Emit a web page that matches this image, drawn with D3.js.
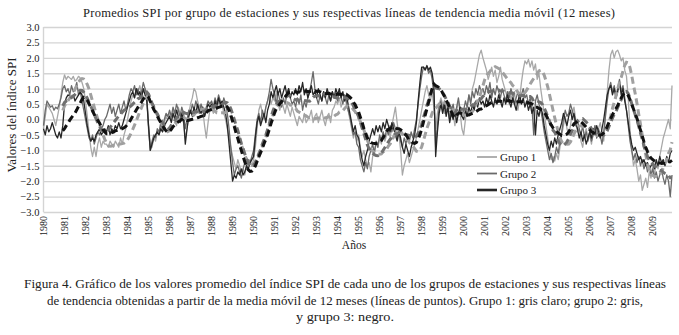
<!DOCTYPE html>
<html>
<head>
<meta charset="utf-8">
<script src="https://cdn.jsdelivr.net/npm/d3@7"></script>
<style>
  body { margin: 0; background: white; }
  text { font-family: "Liberation Serif", "DejaVu Serif", serif; fill: #222; }
</style>
</head>
<body>
<div id="spi_chart"></div>
<script>

//year labels for x axis (one per january)
const years = d3.range(1980, 2010).map(function(d) { return String(d); });

const yTicks = [-3.0, -2.5, -2.0, -1.5, -1.0, -0.5, 0.0, 0.5, 1.0, 1.5, 2.0, 2.5, 3.0];

const groupNames = ["Grupo 1", "Grupo 2", "Grupo 3"];

//monthly SPI averages, one row per year (jan..dec)
const grupo1 = [
  -0.3, 0.1, 0.5, 0.4, 0.3, 0.2, 0.0, -0.2, 0.1, 0.4, 0.8, 1.2,
  1.45, 1.3, 1.4, 1.35, 1.3, 1.4, 1.25, 1.3, 1.4, 1.35, 1.2, 1.0,
  0.6, 0.1, -0.4, -0.9, -1.2, -0.9, -1.2, -0.8, -0.6, -0.9, -0.7, -0.8,
  -0.8, -0.9, -0.7, -0.8, -0.9, -0.7, -0.8, -0.9, -0.6, -0.8, -0.5, -0.3,
  0.0, 0.3, 0.6, 0.8, 0.7, 1.0, 0.9, 1.1, 0.8, 0.9, 1.0, 0.7,
  -0.2, -0.8, -0.9, -0.6, -0.7, -0.4, -0.5, -0.2, -0.4, -0.1, 0.1, 0.0,
  0.2, 0.0, 0.3, 0.1, -0.2, 0.4, 0.2, 0.0, -0.1, -0.6, -0.3, 0.2,
  0.5, 0.7, 1.0, 0.9, 0.6, 0.4, 0.5, 0.3, -0.2, -0.6, -0.1, 0.3,
  0.4, 0.2, 0.5, 0.3, 0.6, 0.4, 0.5, 0.2, 0.0, -0.3, -0.6, -0.9,
  -1.2, -1.4, -1.6, -1.3, -1.5, -1.7, -1.6, -1.8, -1.5, -1.4, -1.3, -1.5,
  -1.3, -0.9, -0.3, 0.3, 0.5, 0.2, 0.0, 0.4, 0.6, 0.8, 0.5, 0.7,
  0.6, 0.9, 0.5, 0.3, 0.6, 0.4, 0.2, 0.5, 0.3, 0.1, 0.4, 0.2,
  0.0, -0.2, 0.1, 0.0, -0.1, 0.2, -0.1, 0.0, 0.1, 0.3, -0.1, 0.1,
  0.2, -0.1, 0.1, 0.3, 0.0, -0.2, 0.1, 0.2, -0.1, 0.3, 0.4, 0.6,
  0.5, 0.7, 0.4, 0.6, 0.8, 0.5, 0.3, 0.0, -0.3, -0.6, -0.4, -0.7,
  -0.5, -0.9, -1.2, -1.0, -1.3, -1.5, -1.4, -1.7, -1.2, -1.0, -0.8, -0.9,
  -0.6, -0.8, -0.4, -0.7, -0.5, -0.3, -0.6, -0.2, 0.1, 0.4, -0.1, -0.5,
  -1.0, -1.8, -1.5, -1.3, -1.1, -1.4, -1.2, -1.0, -0.8, -0.6, -0.3, 0.0,
  0.3, 0.6, 0.9, 1.1, 0.8, 0.6, 0.9, 0.4, -0.3, 0.2, 0.5, 0.7,
  0.5, 0.2, 0.6, 0.3, 0.0, 0.4, 0.2, -0.2, 0.3, 0.6, 0.2, -0.3,
  -0.5, 0.0, 0.4, 0.8, 0.6, 1.0, 1.2, 1.5, 1.8, 2.1, 2.25, 2.0,
  1.8, 1.6, 1.3, 1.5, 1.7, 1.4, 1.6, 1.2, 1.4, 1.7, 1.3, 1.1,
  0.9, 0.7, 0.5, 0.8, 0.6, 0.9, 0.4, 0.3, 0.7, 1.2, 1.6, 1.9,
  1.8, 1.95, 1.7, 1.9, 1.6, 1.8, 1.3, 1.5, 1.0, 0.6, 0.2, -0.2,
  -0.6, -1.0, -1.3, -1.2, -1.35, -1.1, -1.3, -0.9, -0.5, -0.2, 0.1, -0.3,
  -0.5, -0.2, 0.2, 0.4, 0.0, -0.4, -0.3, -0.7, -0.9, -0.5, -0.3, -0.6,
  -0.5, -0.8, -0.4, -0.2, -0.6, -0.3, -0.1, -0.4, -0.7, 0.2, 0.9, 1.6,
  2.1, 2.25, 2.0, 2.2, 2.25, 2.1, 1.9, 2.0, 1.6, 1.4, 0.7, -0.3,
  -1.0, -1.5, -1.3, -1.6, -2.0, -1.8, -2.3, -2.1, -1.9, -2.2, -1.7, -1.9,
  -1.5, -1.8, -1.4, -1.6, -1.2, -0.9, -0.6, -0.4, -0.2, 0.0, -0.3, 1.1
];

const grupo2 = [
  -0.2, 0.3, 0.6, 0.5, 0.4, 0.45, 0.3, 0.4, 0.35, 0.5, 0.7, 1.0,
  1.1, 0.9, 1.0, 0.8, 1.1, 0.9, 1.0, 1.2, 0.8, 0.9, 0.6, 0.3,
  0.0, -0.3, -0.6, -0.7, -0.5, -0.8, -0.6, -0.4, -0.5, -0.3, -0.2, 0.0,
  0.1, 0.3, 0.5, 0.2, 0.4, 0.1, 0.3, 0.5, 0.2, 0.4, 0.6, 0.3,
  0.5, 0.8, 1.0, 0.9, 1.1, 0.8, 1.0, 0.7, 0.9, 1.2, 1.0, 0.8,
  -0.3, -1.0, -0.7, -0.5, -0.6, -0.3, -0.4, -0.1, -0.3, 0.0, 0.2, 0.1,
  0.3, 0.1, 0.4, 0.2, 0.5, 0.3, 0.1, 0.4, 0.2, -0.3, 0.0, 0.3,
  0.2, 0.5, 0.3, 0.6, 0.4, 0.2, 0.5, 0.3, 0.1, 0.4, 0.6, 0.5,
  0.6, 0.4, 0.7, 0.5, 0.8, 0.6, 0.4, 0.7, 0.5, 0.2, -0.3, -0.9,
  -1.4, -1.8, -1.6, -1.5, -1.7, -1.9, -1.6, -1.4, -1.5, -1.3, -1.4, -1.2,
  -1.0, -0.5, 0.0, 0.2, -0.1, 0.3, 0.1, 0.4, 0.6, 0.9, 1.3, 1.0,
  0.8, 0.5, 0.9, 0.6, 0.4, 0.7, 0.5, 0.8, 1.0, 0.7, 0.5, 0.6,
  0.4, 0.7, 0.5, 0.8, 0.3, 0.6, 0.4, 0.7, 0.9, 1.2, 1.55, 1.0,
  0.7, 0.5, 0.8, 0.6, 0.9, 0.7, 0.5, 0.8, 0.6, 0.9, 0.7, 0.8,
  0.6, 0.9, 0.7, 0.5, 0.8, 0.6, 0.3, 0.1, -0.2, -0.5, -0.4, -0.8,
  -0.9, -1.3, -1.5, -1.7, -1.4, -1.6, -1.2, -1.0, -0.8, -1.1, -0.7, -0.9,
  -0.5, -0.7, -0.4, -0.6, -0.3, -0.5, -0.2, -0.4, -0.1, -0.3, -0.6, -0.4,
  -0.7, -0.9, -0.6, -0.8, -0.5, -0.7, -0.4, -0.6, -0.3, 0.0, 0.5, 1.0,
  1.4, 1.7, 1.65, 1.7, 1.5, 1.6, 1.3, 0.8, -0.9, -0.2, 0.4, 0.6,
  0.3, 0.6, 0.2, 0.5, 0.0, 0.3, 0.5, 0.1, 0.4, 0.7, 0.3, 0.1,
  0.3, 0.6, 0.4, 0.8, 0.5, 0.9, 0.7, 1.0, 0.8, 1.1, 0.9, 1.0,
  0.8, 1.1, 0.9, 1.2, 0.7, 1.0, 0.8, 1.1, 0.9, 0.7, 1.0, 0.8,
  0.6, 0.9, 0.7, 1.0, 0.8, 0.5, 0.7, 0.9, 0.6, 0.8, 1.0, 0.7,
  0.8, 0.5, 0.7, 0.4, -0.5, 0.6, 0.8, 0.5, 0.3, 0.0, -0.4, -0.7,
  -1.0, -1.3, -1.1, -1.4, -1.2, -0.9, -1.1, -0.7, -0.4, 0.0, 0.3, 0.1,
  0.2, 0.5, 0.3, 0.1, -0.2, 0.0, -0.3, -0.5, -0.2, -0.6, -0.4, -0.7,
  -0.4, -0.7, -0.5, -0.2, -0.6, -0.3, -0.5, -0.8, -0.4, 0.1, 0.6, 1.0,
  1.2, 0.9, 1.1, 0.8, 1.0, 1.3, 0.9, 1.1, 0.7, 0.3, -0.2, -0.7,
  -1.0, -1.3, -1.1, -1.4, -1.2, -1.5, -1.3, -1.6, -1.4, -1.7, -1.5, -1.8,
  -1.6, -1.9, -1.7, -2.0, -1.8, -1.6, -1.9, -2.1, -1.8, -2.0, -2.5, -1.8
];

const grupo3 = [
  -0.3, -0.5, -0.2, -0.4, -0.3, -0.1, -0.3, -0.5, -0.6, -0.4, -0.6, -0.2,
  0.5, 0.7, 0.8, 0.75, 0.7, 0.8, 0.6, 0.7, 0.8, 0.9, 0.8, 0.6,
  0.2, -0.2, -0.5, -0.7, -0.6, -0.7, -0.5, -0.4, -0.3, -0.5, -0.4, -0.3,
  -0.4, -0.2, -0.5, -0.3, -0.4, -0.2, -0.3, -0.1, -0.3, -0.2, 0.0, 0.2,
  0.4, 0.6, 0.8, 0.9, 0.7, 1.0, 0.8, 0.9, 0.7, 1.0, 0.8, 0.6,
  -0.2, -1.0, -0.8, -0.6, -0.5, -0.4, -0.5, -0.3, -0.4, -0.2, -0.1, 0.0,
  0.1, -0.1, 0.2, 0.0, 0.3, 0.1, -0.1, 0.2, 0.0, -0.8, -0.3, 0.1,
  0.3, 0.1, 0.4, 0.2, 0.5, 0.3, 0.2, 0.4, 0.1, 0.3, 0.5, 0.4,
  0.5, 0.3, 0.6, 0.4, 0.7, 0.5, 0.6, 0.4, 0.2, -0.2, -0.8, -1.4,
  -2.0, -1.8, -1.9, -1.7, -1.8, -1.6, -1.8, -1.7, -1.5, -1.6, -1.4, -1.3,
  -1.2, -0.6, -0.1, 0.1, -0.2, 0.0, 0.2, -0.1, 0.3, 0.5, 0.9, 0.7,
  0.9, 1.1, 0.8, 1.0, 0.7, 0.9, 1.1, 0.8, 1.0, 0.7, 0.9, 0.8,
  1.0, 0.8, 1.1, 0.9, 1.2, 0.8, 1.0, 0.7, 0.9, 1.1, 0.8, 0.9,
  0.7, 1.0, 0.8, 0.6, 0.9, 0.7, 1.0, 0.8, 0.6, 0.9, 0.7, 1.0,
  0.8, 1.0, 0.7, 0.9, 0.6, 0.8, 0.5, 0.2, -0.1, -0.4, -0.2, -0.5,
  -0.6, -1.0, -1.3, -1.5, -1.2, -1.0, -0.7, -0.5, -0.3, -0.5, -0.2, -0.4,
  -0.2, -0.4, -0.1, -0.3, 0.0, -0.2, -0.4, -0.1, -0.3, -0.5, -0.7, -0.4,
  -0.6, -0.9, -1.1, -0.8, -1.0, -1.2, -0.9, -0.7, -0.5, -0.1, 0.6, 1.2,
  1.7, 1.7, 1.6, 1.75, 1.6, 1.7, 1.5, 1.1, -1.2, -0.4, 0.2, 0.5,
  0.2, 0.5, 0.1, 0.4, -0.1, 0.2, 0.0, 0.3, -0.1, 0.2, 0.4, 0.1,
  0.0, 0.3, 0.1, 0.4, 0.2, 0.5, 0.3, 0.6, 0.4, 0.7, 0.5, 0.6,
  0.4, 0.7, 0.5, 0.8, 0.6, 0.4, 0.7, 0.5, 0.8, 0.6, 0.4, 0.7,
  0.5, 0.8, 0.6, 0.4, 0.7, 0.5, 0.3, 0.6, 0.8, 0.5, 0.7, 0.4,
  0.6, 0.3, 0.5, 0.2, 0.4, -0.5, 0.3, 0.1, 0.4, 0.2, -0.2, -0.5,
  -0.8, -1.0, -0.7, -0.9, -0.6, -0.8, -0.5, -0.3, -0.1, 0.2, 0.0, -0.2,
  0.1, 0.3, 0.0, 0.2, -0.1, -0.3, -0.6, -0.4, -0.7, -0.5, -0.8, -0.6,
  -0.4, -0.6, -0.3, -0.5, -0.2, -0.4, -0.6, -0.3, 0.0, 0.4, 0.8, 1.0,
  1.1, 0.8, 1.0, 0.7, 0.9, 1.2, 0.8, 1.0, 0.6, 0.3, -0.1, -0.5,
  -0.8, -1.0, -0.9, -1.1, -1.3, -1.2, -1.4, -1.3, -1.5, -1.4, -1.6, -1.5,
  -1.4, -1.6, -1.3, -1.5, -1.2, -1.4, -1.3, -1.5, -1.2, -1.4, -1.1, -1.0
];

const lineColors = ["#a8a8a8", "#6a6a6a", "#262626"];
const trendColors = ["#a0a0a0", "#707070", "#111111"];

drawChart();

function drawChart() {

    const width = 679;
    const height = 335;
    const plot = { left: 43.5, right: 672, top: 27, bottom: 212 };

    const svg = d3.select("#spi_chart")
        .append("svg")
        .attr("width", width)
        .attr("height", height);

    const series = [grupo1, grupo2, grupo3];

    //x is month index (0 = jan 1980)
    const xScale = d3.scaleLinear()
        .domain([0, 359])
        .range([plot.left, plot.right]);

    const yScale = d3.scaleLinear()
        .domain([-3, 3])
        .range([plot.bottom, plot.top]);

    //horizontal gridlines + y labels
    const yAxis = svg.append("g")
        .attr("transform", "translate(" + plot.left + ",0)")
        .call(d3.axisLeft(yScale)
            .tickValues(yTicks)
            .tickSize(-(plot.right - plot.left))
            .tickPadding(4)
            .tickFormat(d3.format(".1f")));

    yAxis.select(".domain").remove();
    yAxis.selectAll("line")
        .attr("stroke", "#d4d4d4")
        .attr("stroke-width", 1.4);
    yAxis.selectAll("text")
        .style("font-family", "Liberation Serif")
        .style("font-size", "10.5px")
        .attr("fill", "#222");

    //vertical axis line
    svg.append("line")
        .attr("x1", plot.left)
        .attr("x2", plot.left)
        .attr("y1", plot.top)
        .attr("y2", plot.bottom)
        .attr("stroke", "#d4d4d4")
        .attr("stroke-width", 1.4);

    //x labels, rotated
    const xAxis = svg.append("g")
        .attr("transform", "translate(0," + plot.bottom + ")")
        .call(d3.axisBottom(xScale)
            .tickValues(d3.range(0, 360, 12))
            .tickSize(0)
            .tickFormat(function(d) { return years[d / 12]; }));

    xAxis.select(".domain").remove();
    xAxis.selectAll("text")
        .attr("transform", "rotate(-90)")
        .attr("x", -4)
        .attr("y", 0)
        .attr("dy", "0.32em")
        .style("text-anchor", "end")
        .style("font-family", "Liberation Serif")
        .style("font-size", "10px")
        .attr("fill", "#222");

    const line = d3.line()
        .x(function(d, i) { return xScale(i); })
        .y(function(d) { return yScale(d); });

    //raw monthly lines
    series.forEach(function(s, k) {
        svg.append("path")
            .datum(s)
            .attr("fill", "none")
            .attr("stroke", lineColors[k])
            .attr("stroke-width", 1.3)
            .attr("stroke-linejoin", "round")
            .attr("d", line);
    });

    //12 month trailing moving average (excel style trendline)
    const maLine = d3.line()
        .defined(function(d) { return d != null; })
        .x(function(d, i) { return xScale(i); })
        .y(function(d) { return yScale(d); });

    series.forEach(function(s, k) {
        const ma = s.map(function(d, i) {
            if (i < 11) return null;
            return d3.mean(s.slice(i - 11, i + 1));
        });
        svg.append("path")
            .datum(ma)
            .attr("fill", "none")
            .attr("stroke", trendColors[k])
            .attr("stroke-width", 3)
            .attr("stroke-dasharray", "7,4")
            .attr("d", maLine);
    });

    //legend
    const legend = svg.append("g")
        .attr("transform", "translate(477,157)");

    groupNames.forEach(function(name, k) {
        legend.append("line")
            .attr("x1", 0)
            .attr("x2", 20)
            .attr("y1", k * 16.5)
            .attr("y2", k * 16.5)
            .attr("stroke", lineColors[k])
            .attr("stroke-width", k == 2 ? 2.6 : 1.8);
        legend.append("text")
            .attr("x", 23)
            .attr("y", k * 16.5 + 4)
            .style("font-size", "11px")
            .text(name);
    });

    //title
    svg.append("text")
        .attr("x", 349)
        .attr("y", 17)
        .attr("text-anchor", "middle")
        .attr("textLength", 532)
        .style("font-size", "12.5px")
        .text("Promedios SPI por grupo de estaciones y sus respectivas líneas de tendencia media móvil (12 meses)");

    //y label
    svg.append("text")
        .attr("transform", "rotate(-90)")
        .attr("x", -115)
        .attr("y", 16)
        .attr("text-anchor", "middle")
        .style("font-size", "13px")
        .text("Valores del índice SPI");

    //x label
    svg.append("text")
        .attr("x", 354)
        .attr("y", 249)
        .attr("text-anchor", "middle")
        .style("font-size", "11.5px")
        .text("Años");

    //figure caption
    const caption = [
        { t: "Figura 4. Gráfico de los valores promedio del índice SPI de cada uno de los grupos de estaciones y sus respectivas líneas", w: 642 },
        { t: "de tendencia obtenidas a partir de la media móvil de 12 meses (líneas de puntos). Grupo 1: gris claro; grupo 2: gris,", w: 596 },
        { t: "y grupo 3: negro.", w: 98 }
    ];

    caption.forEach(function(c, i) {
        svg.append("text")
            .attr("x", 345)
            .attr("y", 288 + i * 16.5)
            .attr("text-anchor", "middle")
            .attr("textLength", c.w)
            .attr("lengthAdjust", "spacingAndGlyphs")
            .style("font-size", "12px")
            .text(c.t);
    });
}
</script>
</body>
</html>
